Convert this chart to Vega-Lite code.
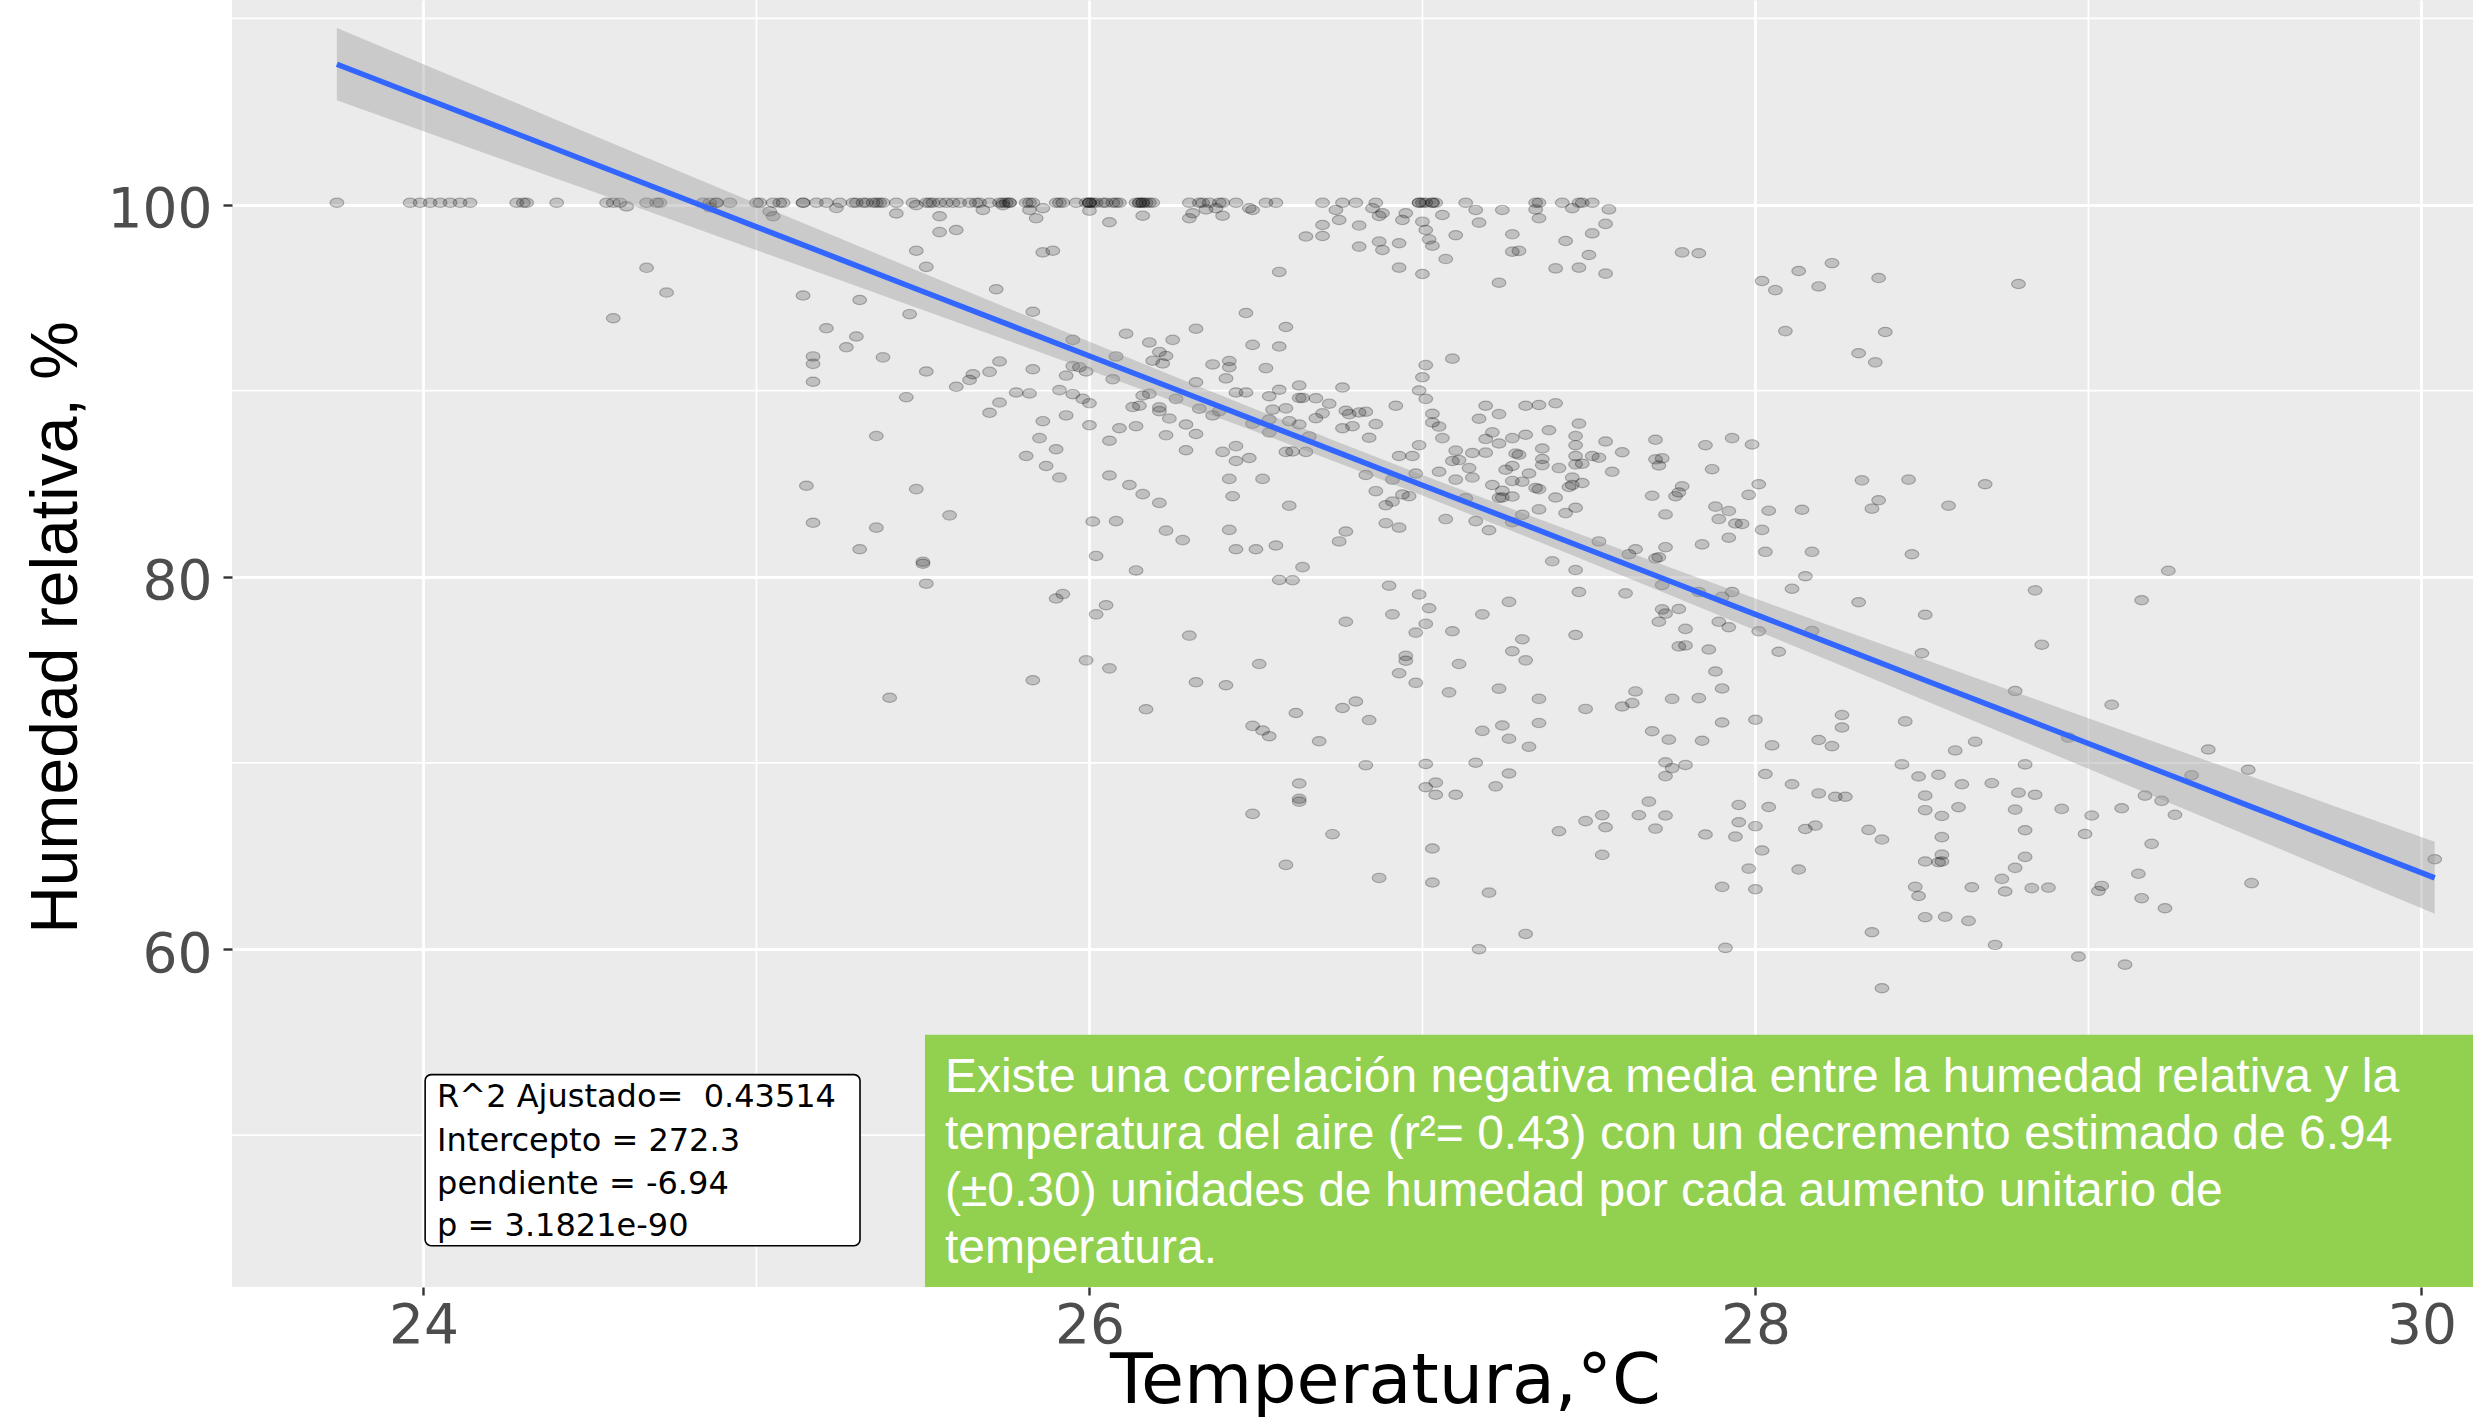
{
  "$schema": "https://vega.github.io/schema/vega-lite/v6.json",
  "width": 2241,
  "height": 1287,
  "autosize": {"type": "none"},
  "padding": {"left": 232, "top": 0, "right": 0, "bottom": 135},
  "background": "#FFFFFF",
  "config": {
    "view": {"fill": "#EBEBEB", "stroke": null},
    "axis": {"domain": false, "grid": true, "gridColor": "#FFFFFF", "gridWidth": 2.8, "tickColor": "#333333", "tickWidth": 2.4, "labelColor": "#4D4D4D", "labelFont": "DejaVu Sans", "labelFontSize": 55, "titleColor": "#000000", "titleFontWeight": "normal"}
  },
  "datasets": {
    "minorX": [{"v": 25}, {"v": 27}, {"v": 29}],
    "minorY": [{"v": 50}, {"v": 70}, {"v": 90}, {"v": 110}],
    "fit": [
      {"t": 23.74, "lo": 105.60, "hi": 109.49, "fit": 107.54},
      {"t": 24.0, "lo": 103.94, "hi": 107.54, "fit": 105.74},
      {"t": 24.25, "lo": 102.34, "hi": 105.67, "fit": 104.01},
      {"t": 24.5, "lo": 100.75, "hi": 103.79, "fit": 102.27},
      {"t": 24.75, "lo": 99.15, "hi": 101.92, "fit": 100.54},
      {"t": 25.0, "lo": 97.55, "hi": 100.05, "fit": 98.80},
      {"t": 25.25, "lo": 95.94, "hi": 98.19, "fit": 97.07},
      {"t": 25.5, "lo": 94.34, "hi": 96.32, "fit": 95.33},
      {"t": 25.75, "lo": 92.72, "hi": 94.47, "fit": 93.60},
      {"t": 26.0, "lo": 91.09, "hi": 92.63, "fit": 91.86},
      {"t": 26.25, "lo": 89.45, "hi": 90.80, "fit": 90.13},
      {"t": 26.5, "lo": 87.79, "hi": 88.99, "fit": 88.39},
      {"t": 26.75, "lo": 86.10, "hi": 87.21, "fit": 86.66},
      {"t": 27.0, "lo": 84.37, "hi": 85.47, "fit": 84.92},
      {"t": 27.25, "lo": 82.60, "hi": 83.77, "fit": 83.19},
      {"t": 27.5, "lo": 80.80, "hi": 82.11, "fit": 81.45},
      {"t": 27.75, "lo": 78.97, "hi": 80.46, "fit": 79.72},
      {"t": 28.0, "lo": 77.13, "hi": 78.83, "fit": 77.98},
      {"t": 28.25, "lo": 75.28, "hi": 77.21, "fit": 76.25},
      {"t": 28.5, "lo": 73.42, "hi": 75.61, "fit": 74.51},
      {"t": 28.75, "lo": 71.55, "hi": 74.00, "fit": 72.78},
      {"t": 29.0, "lo": 69.68, "hi": 72.40, "fit": 71.04},
      {"t": 29.25, "lo": 67.81, "hi": 70.80, "fit": 69.31},
      {"t": 29.5, "lo": 65.94, "hi": 69.20, "fit": 67.57},
      {"t": 29.75, "lo": 64.06, "hi": 67.61, "fit": 65.84},
      {"t": 30.04, "lo": 61.89, "hi": 65.76, "fit": 63.82}
    ],
    "statbox": [{"x1": 24.005, "x2": 25.311, "y1": 44.06, "y2": 53.25}],
    "stattext": [
      {"tx": 24.041, "ty": 51.53, "label": "R^2 Ajustado=\u00a0 0.43514"},
      {"tx": 24.041, "ty": 49.17, "label": "Intercepto = 272.3"},
      {"tx": 24.041, "ty": 46.86, "label": "pendiente = -6.94"},
      {"tx": 24.041, "ty": 44.60, "label": "p = 3.1821e-90"}
    ],
    "greenbox": [{"x1": 25.506, "x2": 30.155, "y1": 41.84, "y2": 55.40}],
    "greentext": [
      {"tx": 25.566, "ty": 52.34, "label": "Existe una correlación negativa media entre la humedad relativa y la"},
      {"tx": 25.566, "ty": 49.27, "label": "temperatura del aire (r²= 0.43) con un decremento estimado de 6.94"},
      {"tx": 25.566, "ty": 46.21, "label": "(±0.30) unidades de humedad por cada aumento unitario de"},
      {"tx": 25.566, "ty": 43.15, "label": "temperatura."}
    ],
    "pts": [
      {"t":23.74,"h":100.1},{"t":23.96,"h":100.1},{"t":23.99,"h":100.1},{"t":24.02,"h":100.1},{"t":24.05,"h":100.1},{"t":24.08,"h":100.1},{"t":24.11,"h":100.1},{"t":24.14,"h":100.1},{"t":24.28,"h":100.1},{"t":24.30,"h":100.1},{"t":24.31,"h":100.1},{"t":24.40,"h":100.1},{"t":24.55,"h":100.1},{"t":24.57,"h":100.1},{"t":24.59,"h":100.1},{"t":24.67,"h":100.1},{"t":24.70,"h":100.1},{"t":24.71,"h":100.1},{"t":24.84,"h":100.1},{"t":24.86,"h":100.1},{"t":24.88,"h":100.1},{"t":24.88,"h":100.1},{"t":24.92,"h":100.1},{"t":25.00,"h":100.1},{"t":25.01,"h":100.1},{"t":25.05,"h":100.1},{"t":25.07,"h":100.1},{"t":25.08,"h":100.1},{"t":25.14,"h":100.1},{"t":25.14,"h":100.1},{"t":25.18,"h":100.1},{"t":25.21,"h":100.1},{"t":25.25,"h":100.1},{"t":25.29,"h":100.1},{"t":25.30,"h":100.1},{"t":25.32,"h":100.1},{"t":25.33,"h":100.1},{"t":25.35,"h":100.1},{"t":25.36,"h":100.1},{"t":25.37,"h":100.1},{"t":25.38,"h":100.1},{"t":25.42,"h":100.1},{"t":25.47,"h":100.1},{"t":25.51,"h":100.1},{"t":25.52,"h":100.1},{"t":25.53,"h":100.1},{"t":25.55,"h":100.1},{"t":25.57,"h":100.1},
      {"t":25.59,"h":100.1},{"t":25.61,"h":100.1},{"t":25.64,"h":100.1},{"t":25.66,"h":100.1},{"t":25.67,"h":100.1},{"t":25.70,"h":100.1},{"t":25.73,"h":100.1},{"t":25.74,"h":100.1},{"t":25.75,"h":100.1},{"t":25.76,"h":100.1},{"t":25.76,"h":100.1},{"t":25.81,"h":100.1},{"t":25.82,"h":100.1},{"t":25.83,"h":100.1},{"t":25.90,"h":100.1},{"t":25.91,"h":100.1},{"t":25.92,"h":100.1},{"t":25.96,"h":100.1},{"t":25.99,"h":100.1},{"t":26.00,"h":100.1},{"t":26.00,"h":100.1},{"t":26.00,"h":100.1},{"t":26.01,"h":100.1},{"t":26.02,"h":100.1},{"t":26.04,"h":100.1},{"t":26.05,"h":100.1},{"t":26.07,"h":100.1},{"t":26.08,"h":100.1},{"t":26.09,"h":100.1},{"t":26.14,"h":100.1},{"t":26.15,"h":100.1},{"t":26.15,"h":100.1},{"t":26.16,"h":100.1},{"t":26.16,"h":100.1},{"t":26.17,"h":100.1},{"t":26.18,"h":100.1},{"t":26.19,"h":100.1},{"t":26.30,"h":100.1},{"t":26.33,"h":100.1},{"t":26.34,"h":100.1},{"t":26.36,"h":100.1},{"t":26.39,"h":100.1},{"t":26.40,"h":100.1},{"t":26.44,"h":100.1},{"t":26.53,"h":100.1},{"t":26.56,"h":100.1},{"t":26.70,"h":100.1},{"t":26.76,"h":100.1},{"t":26.80,"h":100.1},{"t":26.86,"h":100.1},{"t":26.99,"h":100.1},{"t":26.99,"h":100.1},{"t":27.00,"h":100.1},{"t":27.01,"h":100.1},{"t":27.03,"h":100.1},{"t":27.03,"h":100.1},{"t":27.04,"h":100.1},{"t":27.13,"h":100.1},{"t":27.34,"h":100.1},{"t":27.35,"h":100.1},{"t":27.42,"h":100.1},{"t":27.47,"h":100.1},{"t":27.48,"h":100.1},{"t":27.51,"h":100.1},
      {"t":24.61,"h":99.9},{"t":24.86,"h":99.85},{"t":25.24,"h":99.81},{"t":25.04,"h":99.63},{"t":25.05,"h":99.37},{"t":25.42,"h":99.52},{"t":25.48,"h":99.97},{"t":25.55,"h":99.37},{"t":25.55,"h":98.52},{"t":25.48,"h":97.52},{"t":25.51,"h":96.65},{"t":24.67,"h":96.60},{"t":24.73,"h":95.27},{"t":24.57,"h":93.89},{"t":25.14,"h":95.11},{"t":25.31,"h":94.87},{"t":25.46,"h":94.11},{"t":25.21,"h":93.35},{"t":25.30,"h":92.91},{"t":25.27,"h":92.33},{"t":25.17,"h":91.84},{"t":25.17,"h":91.44},{"t":25.38,"h":91.79},{"t":25.51,"h":91.03},{"t":25.17,"h":90.48},{"t":25.45,"h":89.65},{"t":25.36,"h":87.56},{"t":25.15,"h":84.89},{"t":25.48,"h":84.71},{"t":25.58,"h":83.30},{"t":25.17,"h":82.90},{"t":25.36,"h":82.64},{"t":25.31,"h":81.48},{"t":25.50,"h":80.81},{"t":25.50,"h":80.70},{"t":25.51,"h":79.63},{"t":25.40,"h":73.50},
      {"t":25.60,"h":98.63},{"t":25.68,"h":99.71},{"t":25.82,"h":99.71},{"t":25.84,"h":99.26},{"t":25.86,"h":99.80},{"t":26.00,"h":99.67},{"t":26.06,"h":99.05},{"t":26.16,"h":99.40},{"t":26.30,"h":99.26},{"t":26.31,"h":99.53},{"t":26.35,"h":99.74},{"t":26.38,"h":99.80},{"t":26.40,"h":99.40},{"t":26.48,"h":99.80},{"t":26.49,"h":99.71},{"t":26.65,"h":98.28},{"t":26.70,"h":98.31},{"t":26.70,"h":98.90},{"t":26.74,"h":99.71},{"t":26.75,"h":99.17},{"t":26.81,"h":98.87},{"t":26.81,"h":97.74},{"t":26.85,"h":99.80},{"t":26.87,"h":99.39},{"t":26.88,"h":99.53},{"t":26.87,"h":98.01},{"t":26.88,"h":97.56},{"t":26.93,"h":97.92},{"t":26.93,"h":96.61},{"t":26.94,"h":99.17},{"t":26.95,"h":99.53},{"t":27.00,"h":99.08},{"t":27.00,"h":96.27},{"t":27.01,"h":98.63},{"t":27.02,"h":98.13},{"t":27.03,"h":97.79},{"t":27.06,"h":99.44},{"t":27.07,"h":97.07},{"t":27.10,"h":98.35},{"t":27.16,"h":99.71},{"t":27.17,"h":99.03},{"t":27.24,"h":99.71},{"t":27.27,"h":98.40},{"t":27.27,"h":97.47},{"t":27.29,"h":97.51},{"t":27.34,"h":99.74},{"t":27.35,"h":99.26},{"t":27.40,"h":96.57},{"t":27.43,"h":98.04},{"t":27.45,"h":99.80},{"t":27.47,"h":96.61},{"t":27.50,"h":97.29},{"t":27.51,"h":98.45},{"t":27.23,"h":95.80},{"t":26.57,"h":96.38},{"t":25.86,"h":97.43},{"t":25.89,"h":97.52},{"t":25.74,"h":99.97},
      {"t":27.56,"h":99.74},{"t":27.55,"h":98.96},{"t":27.55,"h":96.29},{"t":27.78,"h":97.43},{"t":27.83,"h":97.38},{"t":28.02,"h":95.89},{"t":28.06,"h":95.40},{"t":28.13,"h":96.43},{"t":28.19,"h":95.60},{"t":28.23,"h":96.85},{"t":28.37,"h":96.05},{"t":28.09,"h":93.20},{"t":28.39,"h":93.15},{"t":28.31,"h":92.01},{"t":28.36,"h":91.52},{"t":28.79,"h":95.73},
      {"t":25.72,"h":95.45},{"t":25.83,"h":94.24},{"t":25.73,"h":91.57},{"t":25.70,"h":91.01},{"t":25.65,"h":90.88},{"t":25.64,"h":90.57},{"t":25.60,"h":90.21},{"t":25.83,"h":91.15},{"t":25.78,"h":89.90},{"t":25.82,"h":89.85},{"t":25.73,"h":89.36},{"t":25.70,"h":88.81},{"t":25.86,"h":88.36},{"t":25.85,"h":87.45},{"t":25.90,"h":86.85},{"t":25.81,"h":86.49},{"t":25.87,"h":85.95},{"t":25.91,"h":85.33},{"t":25.91,"h":90.03},{"t":25.93,"h":90.81},{"t":25.95,"h":92.73},{"t":25.95,"h":91.32},{"t":25.97,"h":91.26},{"t":25.99,"h":91.03},{"t":25.93,"h":88.67},{"t":25.95,"h":89.81},{"t":25.98,"h":89.56},{"t":26.00,"h":89.32},{"t":26.07,"h":90.61},{"t":26.08,"h":91.84},{"t":26.00,"h":88.14},{"t":26.06,"h":87.31},{"t":26.09,"h":87.98},{"t":26.14,"h":88.09},{"t":26.11,"h":93.06},{"t":26.18,"h":92.59},{"t":26.25,"h":92.73},{"t":26.21,"h":92.08},{"t":26.23,"h":91.86},{"t":26.19,"h":91.61},{"t":26.22,"h":91.46},{"t":26.16,"h":89.74},{"t":26.18,"h":89.83},{"t":26.13,"h":89.12},{"t":26.15,"h":89.19},{"t":26.21,"h":89.10},{"t":26.21,"h":88.90},{"t":26.24,"h":88.50},{"t":26.26,"h":89.56},{"t":26.29,"h":88.18},{"t":26.23,"h":87.60},{"t":26.32,"h":87.67},{"t":26.32,"h":93.33},{"t":26.32,"h":90.45},{"t":26.37,"h":91.41},{"t":26.41,"h":90.66},{"t":26.42,"h":91.59},{"t":26.42,"h":91.26},{"t":26.44,"h":89.90},{"t":26.47,"h":89.90},{"t":26.33,"h":89.03},{"t":26.37,"h":88.67},{"t":26.39,"h":88.90},{"t":26.29,"h":86.80},{"t":26.40,"h":86.71},{"t":26.44,"h":87.02},{"t":26.44,"h":86.22},{"t":26.48,"h":86.38},{"t":26.47,"h":94.17},{"t":26.49,"h":92.46},{"t":26.53,"h":91.21},{"t":26.57,"h":92.37},{"t":26.59,"h":93.42},{"t":26.57,"h":90.05},{"t":26.54,"h":89.70},{"t":26.55,"h":88.98},{"t":26.59,"h":89.05},{"t":26.60,"h":88.36},{"t":26.63,"h":90.28},{"t":26.63,"h":89.61},{"t":26.64,"h":89.61},{"t":26.68,"h":89.59},{"t":26.66,"h":87.54},{"t":26.63,"h":88.18},{"t":26.59,"h":86.71},{"t":26.61,"h":86.73},{"t":26.65,"h":86.71},{"t":26.49,"h":88.23},{"t":26.54,"h":88.45},{"t":26.54,"h":87.76},{"t":26.68,"h":88.52},{"t":26.70,"h":88.78},{"t":26.72,"h":89.30},{"t":26.76,"h":90.17},{"t":26.77,"h":88.92},{"t":26.78,"h":88.74},{"t":26.81,"h":88.83},{"t":26.83,"h":88.87},{"t":26.86,"h":88.20},{"t":26.76,"h":87.98},{"t":26.79,"h":88.09},{"t":26.84,"h":87.47},{"t":26.92,"h":89.19},{"t":27.01,"h":91.37},{"t":27.00,"h":90.72},{"t":26.99,"h":90.01},{"t":27.01,"h":89.56},{"t":27.03,"h":88.76},{"t":27.03,"h":88.29},{"t":27.05,"h":88.07},{"t":27.06,"h":87.45},{"t":26.93,"h":86.49},{"t":26.97,"h":86.49},{"t":26.99,"h":87.07},{"t":26.98,"h":85.55},{"t":26.83,"h":85.47},{"t":26.91,"h":85.22},{"t":26.86,"h":84.60},{"t":26.94,"h":84.42},{"t":26.96,"h":84.33},{"t":26.89,"h":83.84},{"t":26.91,"h":84.04},{"t":27.05,"h":85.64},{"t":27.09,"h":91.72},{"t":27.10,"h":86.78},{"t":27.09,"h":86.22},{"t":27.11,"h":86.27},{"t":27.15,"h":86.65},{"t":27.19,"h":89.19},{"t":27.17,"h":88.49},{"t":27.23,"h":88.74},{"t":27.31,"h":89.19},{"t":27.35,"h":89.23},{"t":27.40,"h":89.32},{"t":27.38,"h":87.87},{"t":27.21,"h":87.76},{"t":27.19,"h":87.40},{"t":27.23,"h":87.16},{"t":27.27,"h":87.45},{"t":27.31,"h":87.63},{"t":27.28,"h":86.62},{"t":27.29,"h":86.56},{"t":27.36,"h":86.89},{"t":27.36,"h":86.33},{"t":27.36,"h":86.00},{"t":27.41,"h":85.84},{"t":27.46,"h":87.56},{"t":27.46,"h":87.07},{"t":27.47,"h":88.23},{"t":27.46,"h":86.49},{"t":27.51,"h":86.49},{"t":27.53,"h":86.40},{"t":27.46,"h":86.04},{"t":27.48,"h":86.07},{"t":27.19,"h":86.67},{"t":27.14,"h":85.84},{"t":27.15,"h":85.33},{"t":27.10,"h":85.22},{"t":27.32,"h":85.55},{"t":27.25,"h":85.75},{"t":27.27,"h":85.95},{"t":27.30,"h":85.11},{"t":27.27,"h":85.15},{"t":27.21,"h":84.93},{"t":27.24,"h":84.62},{"t":27.27,"h":84.31},{"t":27.24,"h":84.26},{"t":27.34,"h":84.77},{"t":27.35,"h":84.71},{"t":27.40,"h":84.26},{"t":27.45,"h":84.93},{"t":27.48,"h":85.04},{"t":27.44,"h":84.82},{"t":27.45,"h":85.33},{"t":27.13,"h":84.22},{"t":27.16,"h":82.99},{"t":27.20,"h":82.50},{"t":27.07,"h":83.10},{"t":27.23,"h":84.24},{"t":27.30,"h":83.33},{"t":27.27,"h":82.93},{"t":27.35,"h":83.62},{"t":27.43,"h":83.42},{"t":27.46,"h":83.71},{"t":27.39,"h":80.83},{"t":27.46,"h":80.36},{"t":27.53,"h":81.90},{"t":26.89,"h":82.88},{"t":26.93,"h":82.64},{"t":26.77,"h":82.43},{"t":26.75,"h":81.90},{"t":26.60,"h":83.82},{"t":26.43,"h":84.33},{"t":26.42,"h":85.26},{"t":26.52,"h":85.26},{"t":26.42,"h":82.52},{"t":26.44,"h":81.48},{"t":26.50,"h":81.48},{"t":26.56,"h":81.68},{"t":26.64,"h":80.52},{"t":26.57,"h":79.83},{"t":26.61,"h":79.81},{"t":26.06,"h":85.44},{"t":26.12,"h":84.93},{"t":26.16,"h":84.44},{"t":26.21,"h":83.97},{"t":26.01,"h":82.97},{"t":26.08,"h":82.99},{"t":26.23,"h":82.48},{"t":26.28,"h":81.97},{"t":26.02,"h":81.12},{"t":26.14,"h":80.34},
      {"t":26.90,"h":79.52},{"t":26.99,"h":79.05},{"t":27.02,"h":78.31},{"t":27.01,"h":77.47},{"t":26.98,"h":77.00},{"t":26.91,"h":77.98},{"t":26.77,"h":77.58},{"t":27.09,"h":77.07},{"t":27.18,"h":77.98},{"t":27.26,"h":78.65},{"t":27.47,"h":79.18},{"t":27.46,"h":76.87},{"t":27.30,"h":76.64},{"t":27.27,"h":76.00},{"t":27.31,"h":75.51},{"t":27.11,"h":75.31},{"t":26.95,"h":75.75},{"t":26.95,"h":75.49},{"t":26.93,"h":74.82},{"t":26.98,"h":74.30},{"t":27.08,"h":73.79},{"t":27.23,"h":73.99},{"t":27.35,"h":73.44},{"t":27.49,"h":72.90},{"t":26.76,"h":72.95},{"t":26.80,"h":73.30},{"t":26.84,"h":72.30},{"t":26.62,"h":72.68},{"t":26.49,"h":71.99},{"t":26.52,"h":71.74},{"t":26.54,"h":71.43},{"t":26.69,"h":71.16},{"t":27.18,"h":71.72},{"t":27.24,"h":72.01},{"t":27.26,"h":71.30},{"t":27.32,"h":70.87},{"t":27.35,"h":72.14},{"t":26.83,"h":69.87},{"t":27.01,"h":69.94},{"t":27.16,"h":70.01},{"t":27.26,"h":69.43},{"t":27.22,"h":68.74},{"t":27.01,"h":68.69},{"t":27.04,"h":68.94},{"t":27.04,"h":68.29},{"t":27.10,"h":68.29},{"t":26.63,"h":68.89},{"t":26.63,"h":68.07},{"t":26.51,"h":75.31},{"t":26.41,"h":74.17},{"t":26.32,"h":74.33},{"t":26.30,"h":76.84},{"t":26.17,"h":72.88},{"t":26.06,"h":75.08},{"t":25.99,"h":75.51},{"t":25.83,"h":74.44},{"t":25.90,"h":78.83},{"t":25.92,"h":79.07},{"t":26.05,"h":78.47},{"t":26.02,"h":77.98},
      {"t":27.55,"h":87.27},{"t":27.60,"h":86.69},{"t":27.70,"h":87.36},{"t":27.57,"h":85.64},{"t":27.70,"h":86.31},{"t":27.72,"h":86.36},{"t":27.71,"h":85.98},{"t":27.85,"h":87.07},{"t":27.93,"h":87.45},{"t":27.99,"h":87.11},{"t":27.87,"h":85.78},{"t":28.01,"h":84.97},{"t":27.98,"h":84.40},{"t":27.78,"h":84.86},{"t":27.77,"h":84.53},{"t":27.76,"h":84.33},{"t":27.69,"h":84.35},{"t":27.73,"h":83.35},{"t":27.88,"h":83.77},{"t":27.92,"h":83.53},{"t":27.89,"h":83.10},{"t":27.94,"h":82.86},{"t":27.96,"h":82.84},{"t":27.92,"h":82.10},{"t":28.04,"h":83.55},{"t":28.14,"h":83.60},{"t":28.02,"h":82.52},{"t":28.03,"h":81.34},{"t":28.17,"h":81.34},{"t":27.84,"h":81.74},{"t":27.73,"h":81.59},{"t":27.64,"h":81.48},{"t":27.62,"h":81.21},{"t":27.70,"h":80.99},{"t":27.71,"h":81.05},{"t":27.72,"h":79.56},{"t":27.61,"h":79.11},{"t":28.32,"h":85.18},{"t":28.46,"h":85.22},{"t":28.69,"h":84.97},{"t":28.37,"h":84.11},{"t":28.35,"h":83.66},{"t":28.58,"h":83.82},{"t":28.47,"h":81.21},{"t":28.15,"h":80.03},{"t":28.11,"h":79.36},{"t":28.31,"h":78.63},{"t":28.51,"h":77.96},{"t":28.84,"h":79.27},{"t":29.16,"h":78.74},{"t":29.24,"h":80.32},{"t":28.86,"h":76.35},{"t":27.93,"h":79.18},{"t":27.90,"h":78.92},{"t":27.83,"h":79.18},{"t":27.72,"h":78.25},{"t":27.73,"h":78.02},{"t":27.77,"h":78.27},{"t":27.71,"h":77.58},{"t":27.79,"h":77.20},{"t":27.89,"h":77.58},{"t":27.92,"h":77.29},{"t":28.01,"h":77.07},{"t":27.77,"h":76.26},{"t":27.79,"h":76.31},{"t":27.86,"h":76.09},{"t":28.07,"h":75.97},{"t":28.17,"h":77.09},{"t":28.50,"h":75.89},{"t":27.88,"h":74.91},{"t":27.90,"h":74.00},{"t":27.64,"h":73.84},{"t":27.63,"h":73.21},{"t":27.60,"h":73.03},{"t":27.75,"h":73.44},{"t":27.83,"h":73.48},{"t":28.78,"h":73.86},{"t":29.07,"h":73.12},{"t":28.94,"h":71.36},{"t":29.36,"h":70.72},{"t":29.31,"h":69.34},{"t":29.48,"h":69.63},{"t":28.26,"h":72.57},{"t":28.26,"h":71.90},{"t":28.45,"h":72.23},{"t":28.00,"h":72.32},{"t":27.90,"h":72.17},{"t":27.69,"h":71.70},{"t":27.74,"h":71.25},{"t":27.84,"h":71.19},{"t":28.05,"h":70.94},{"t":28.19,"h":71.23},{"t":28.23,"h":70.90},{"t":28.60,"h":70.67},{"t":28.66,"h":71.14},{"t":27.73,"h":70.03},{"t":27.75,"h":69.72},{"t":27.79,"h":69.89},{"t":27.73,"h":69.29},{"t":28.03,"h":69.40},{"t":28.11,"h":68.85},{"t":28.19,"h":68.36},{"t":28.24,"h":68.18},{"t":28.27,"h":68.18},{"t":28.44,"h":69.92},{"t":28.49,"h":69.27},{"t":28.55,"h":69.36},{"t":28.62,"h":68.85},{"t":28.71,"h":68.91},{"t":28.81,"h":69.92},{"t":28.79,"h":68.40},{"t":28.84,"h":68.29},{"t":28.51,"h":68.24},{"t":29.17,"h":68.24},
      {"t":26.63,"h":67.92},{"t":26.49,"h":67.26},{"t":26.73,"h":66.17},{"t":26.59,"h":64.52},{"t":26.87,"h":63.82},{"t":27.03,"h":65.40},{"t":27.03,"h":63.57},{"t":27.20,"h":63.03},{"t":27.31,"h":60.81},{"t":27.17,"h":59.99},{"t":27.41,"h":66.33},{"t":27.49,"h":66.87},{"t":27.55,"h":66.54},{"t":27.54,"h":67.19},{"t":27.54,"h":65.06},{"t":27.65,"h":67.19},{"t":27.70,"h":66.47},{"t":27.73,"h":67.17},{"t":27.68,"h":67.92},{"t":27.85,"h":66.15},{"t":27.94,"h":66.04},{"t":27.95,"h":67.74},{"t":27.95,"h":66.81},{"t":28.00,"h":66.60},{"t":28.04,"h":67.63},{"t":28.02,"h":65.29},{"t":27.98,"h":64.32},{"t":27.90,"h":63.34},{"t":28.00,"h":63.21},{"t":27.91,"h":60.06},{"t":28.13,"h":64.27},{"t":28.15,"h":66.45},{"t":28.18,"h":66.63},{"t":28.34,"h":66.40},{"t":28.38,"h":65.88},{"t":28.51,"h":67.46},{"t":28.56,"h":67.15},{"t":28.61,"h":67.62},{"t":28.78,"h":67.49},{"t":28.92,"h":67.53},{"t":29.01,"h":67.17},{"t":29.10,"h":67.56},{"t":29.26,"h":67.21},{"t":29.22,"h":67.96},{"t":28.56,"h":66.01},{"t":28.56,"h":65.07},{"t":28.56,"h":64.70},{"t":28.55,"h":64.66},{"t":28.51,"h":64.70},{"t":28.48,"h":63.34},{"t":28.49,"h":62.85},{"t":28.51,"h":61.71},{"t":28.57,"h":61.73},{"t":28.64,"h":61.51},{"t":28.65,"h":63.32},{"t":28.75,"h":63.09},{"t":28.83,"h":63.27},{"t":28.88,"h":63.30},{"t":28.74,"h":63.77},{"t":28.78,"h":64.36},{"t":28.81,"h":64.95},{"t":28.81,"h":66.38},{"t":28.99,"h":66.18},{"t":29.03,"h":63.12},{"t":29.04,"h":63.39},{"t":29.15,"h":64.04},{"t":29.16,"h":62.73},{"t":29.23,"h":62.19},{"t":29.19,"h":65.65},{"t":28.35,"h":60.90},{"t":28.38,"h":57.89},{"t":28.72,"h":60.22},{"t":28.97,"h":59.59},{"t":29.11,"h":59.16},
      {"t":29.49,"h":63.54},{"t":30.04,"h":64.82}
    ]
  },
  "layer": [
    {
      "data": {"name": "minorX"},
      "mark": {"type": "rule", "color": "#FFFFFF", "strokeWidth": 1.7},
      "encoding": {"x": {"field": "v", "type": "quantitative", "title": "Temperatura,°C", "scale": {"domain": [23.425, 30.155], "nice": false, "zero": false}}}
    },
    {
      "data": {"name": "minorY"},
      "mark": {"type": "rule", "color": "#FFFFFF", "strokeWidth": 1.7},
      "encoding": {"y": {"field": "v", "type": "quantitative", "title": "Humedad relativa, %", "scale": {"domain": [41.84, 110.99], "nice": false, "zero": false}}}
    },
    {
      "data": {"name": "pts"},
      "mark": {"type": "point", "shape": "M-1,0C-1,-0.37,-0.55,-0.68,0,-0.68C0.55,-0.68,1,-0.37,1,0C1,0.37,0.55,0.68,0,0.68C-0.55,0.68,-1,0.37,-1,0Z", "size": 190, "filled": true, "fill": "#000000", "fillOpacity": 0.18, "stroke": "#000000", "strokeOpacity": 0.25, "strokeWidth": 1.2, "opacity": 1, "clip": true},
      "encoding": {
        "x": {"field": "t", "type": "quantitative", "title": "Temperatura,°C", "scale": {"domain": [23.425, 30.155], "nice": false, "zero": false},
          "axis": {"values": [24, 26, 28, 30], "format": "d", "tickSize": 8, "labelPadding": 4, "labelFlush": false, "labelOverlap": false, "titleFont": "DejaVu Sans", "titleFontSize": 70, "titleX": 1153, "titleY": 115, "titleBaseline": "alphabetic", "titleAlign": "center", "titleAnchor": null}},
        "y": {"field": "h", "type": "quantitative", "title": "Humedad relativa, %", "scale": {"domain": [41.84, 110.99], "nice": false, "zero": false},
          "axis": {"values": [60, 80, 100], "format": "d", "tickSize": 9, "labelPadding": 11, "labelOffset": 5, "labelFlush": false, "labelOverlap": false, "titleFont": "Liberation Sans", "titleFontSize": 66, "titleX": -156, "titleY": 627, "titleAngle": 270, "titleBaseline": "alphabetic", "titleAlign": "center", "titleAnchor": null}}
      }
    },
    {
      "data": {"name": "fit"},
      "mark": {"type": "area", "color": "#999999", "opacity": 0.4},
      "encoding": {
        "x": {"field": "t", "type": "quantitative", "title": "Temperatura,°C", "scale": {"domain": [23.425, 30.155], "nice": false, "zero": false}},
        "y": {"field": "lo", "type": "quantitative", "title": "Humedad relativa, %", "scale": {"domain": [41.84, 110.99], "nice": false, "zero": false}},
        "y2": {"field": "hi"}
      }
    },
    {
      "data": {"name": "fit"},
      "mark": {"type": "line", "color": "#3366FF", "strokeWidth": 5.5},
      "encoding": {
        "x": {"field": "t", "type": "quantitative", "title": "Temperatura,°C", "scale": {"domain": [23.425, 30.155], "nice": false, "zero": false}},
        "y": {"field": "fit", "type": "quantitative", "title": "Humedad relativa, %", "scale": {"domain": [41.84, 110.99], "nice": false, "zero": false}}
      }
    },
    {
      "data": {"name": "statbox"},
      "mark": {"type": "rect", "fill": "#FFFFFF", "stroke": "#000000", "strokeWidth": 1.6, "cornerRadius": 6},
      "encoding": {
        "x": {"field": "x1", "type": "quantitative", "title": "Temperatura,°C", "scale": {"domain": [23.425, 30.155], "nice": false, "zero": false}},
        "x2": {"field": "x2"},
        "y": {"field": "y1", "type": "quantitative", "title": "Humedad relativa, %", "scale": {"domain": [41.84, 110.99], "nice": false, "zero": false}},
        "y2": {"field": "y2"}
      }
    },
    {
      "data": {"name": "stattext"},
      "mark": {"type": "text", "align": "left", "baseline": "alphabetic", "font": "DejaVu Sans", "fontSize": 32, "color": "#000000"},
      "encoding": {
        "x": {"field": "tx", "type": "quantitative", "title": "Temperatura,°C", "scale": {"domain": [23.425, 30.155], "nice": false, "zero": false}},
        "y": {"field": "ty", "type": "quantitative", "title": "Humedad relativa, %", "scale": {"domain": [41.84, 110.99], "nice": false, "zero": false}},
        "text": {"field": "label"}
      }
    },
    {
      "data": {"name": "greenbox"},
      "mark": {"type": "rect", "fill": "#92D050"},
      "encoding": {
        "x": {"field": "x1", "type": "quantitative", "title": "Temperatura,°C", "scale": {"domain": [23.425, 30.155], "nice": false, "zero": false}},
        "x2": {"field": "x2"},
        "y": {"field": "y1", "type": "quantitative", "title": "Humedad relativa, %", "scale": {"domain": [41.84, 110.99], "nice": false, "zero": false}},
        "y2": {"field": "y2"}
      }
    },
    {
      "data": {"name": "greentext"},
      "mark": {"type": "text", "align": "left", "baseline": "alphabetic", "font": "Liberation Sans", "fontSize": 48, "color": "#FFFFFF"},
      "encoding": {
        "x": {"field": "tx", "type": "quantitative", "title": "Temperatura,°C", "scale": {"domain": [23.425, 30.155], "nice": false, "zero": false}},
        "y": {"field": "ty", "type": "quantitative", "title": "Humedad relativa, %", "scale": {"domain": [41.84, 110.99], "nice": false, "zero": false}},
        "text": {"field": "label"}
      }
    }
  ]
}
